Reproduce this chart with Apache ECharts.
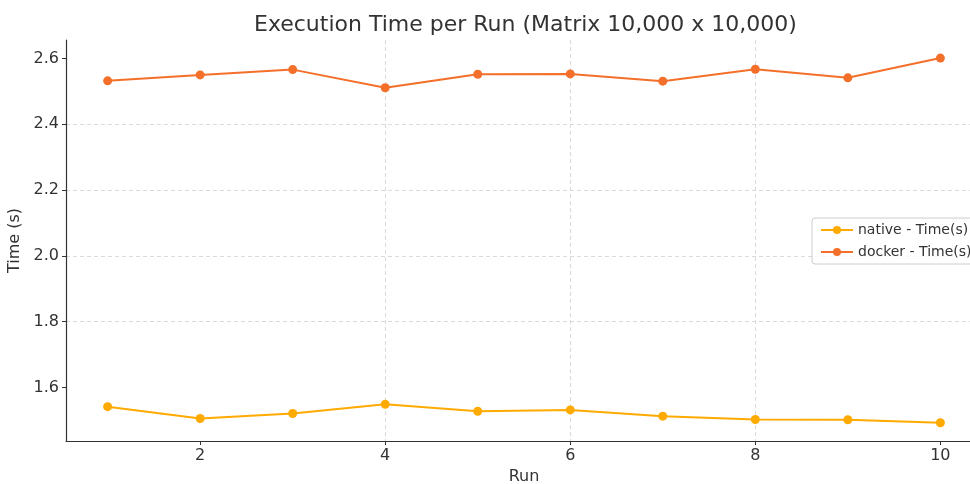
<!DOCTYPE html>
<html>
<head>
<meta charset="utf-8">
<script src="https://cdn.jsdelivr.net/npm/echarts@6/dist/echarts.min.js"></script>
<style>
html,body{margin:0;padding:0;background:#fff;overflow:hidden;}
#chart{width:970px;height:484px;}
</style>
</head>
<body>
<div id="chart"></div>
<script>
const runs = [1, 2, 3, 4, 5, 6, 7, 8, 9, 10];
const nativeTimes = [1.542, 1.506, 1.521, 1.549, 1.528, 1.532, 1.513, 1.503, 1.502, 1.493];
const dockerTimes = [2.532, 2.550, 2.566, 2.511, 2.552, 2.553, 2.531, 2.567, 2.541, 2.601];
const xTicks = [2, 4, 6, 8, 10];
const yTicks = [1.6, 1.8, 2.0, 2.2, 2.4, 2.6];
const seriesNames = ['native - Time(s)', 'docker - Time(s)'];

const FONT = 'DejaVu Sans';
const chart = echarts.init(document.getElementById('chart'), null, {renderer: 'canvas'});

function pairs(xs, ys) { return xs.map((x, i) => [x, ys[i]]); }

const option = {
  animation: false,
  backgroundColor: '#ffffff',
  textStyle: {fontFamily: FONT},
  title: {
    text: 'Execution Time per Run (Matrix 10,000 x 10,000)',
    left: 249,
    top: 9,
    textStyle: {fontFamily: FONT, fontSize: 22, fontWeight: 'normal', color: '#333333'}
  },
  grid: {left: 66, top: 40, width: 916, height: 401, containLabel: false, outerBoundsMode: 'none'},
  legend: {
    left: 812,
    top: 218,
    orient: 'vertical',
    itemWidth: 32,
    itemHeight: 10,
    itemGap: 8,
    padding: [5, 8, 5, 8],
    backgroundColor: 'rgba(255,255,255,0.8)',
    borderColor: '#cccccc',
    borderWidth: 1,
    borderRadius: 3,
    textStyle: {fontFamily: FONT, fontSize: 14, color: '#333333'},
    data: seriesNames
  },
  xAxis: {
    type: 'value',
    min: 0.55,
    max: 10.45,
    name: 'Run',
    nameLocation: 'middle',
    nameGap: 27,
    nameTextStyle: {fontFamily: FONT, fontSize: 16, color: '#333333'},
    axisLine: {show: true, onZero: false, lineStyle: {color: '#333333', width: 1.2}},
    axisTick: {show: true, length: 4, customValues: xTicks, lineStyle: {color: '#333333', width: 1}},
    axisLabel: {customValues: xTicks, fontFamily: FONT, fontSize: 16, color: '#333333', margin: 7},
    splitLine: {show: true, showMinLine: false, showMaxLine: false, lineStyle: {color: '#d0d0d0', type: [4, 3], width: 0.8}}
  },
  yAxis: {
    type: 'value',
    min: 1.4376,
    max: 2.656,
    name: 'Time (s)',
    nameLocation: 'middle',
    nameGap: 41,
    nameTextStyle: {fontFamily: FONT, fontSize: 16, color: '#333333'},
    axisLine: {show: true, onZero: false, lineStyle: {color: '#333333', width: 1.2}},
    axisTick: {show: true, length: 4, customValues: yTicks, lineStyle: {color: '#333333', width: 1}},
    axisLabel: {customValues: yTicks, fontFamily: FONT, fontSize: 16, color: '#333333', margin: 7,
      formatter: v => v.toFixed(1)},
    splitLine: {show: true, showMinLine: false, showMaxLine: false, lineStyle: {color: '#d0d0d0', type: [4, 3], width: 0.8}}
  },
  series: [
    {
      name: seriesNames[0],
      type: 'line',
      data: pairs(runs, nativeTimes),
      symbol: 'circle',
      symbolSize: 9,
      color: '#FFAA00',
      lineStyle: {width: 2, color: '#FFAA00'},
      itemStyle: {color: '#FFAA00'}
    },
    {
      name: seriesNames[1],
      type: 'line',
      data: pairs(runs, dockerTimes),
      symbol: 'circle',
      symbolSize: 9,
      color: '#F4702A',
      lineStyle: {width: 2, color: '#F4702A'},
      itemStyle: {color: '#F4702A'}
    }
  ]
};
chart.setOption(option);
</script>
</body>
</html>
